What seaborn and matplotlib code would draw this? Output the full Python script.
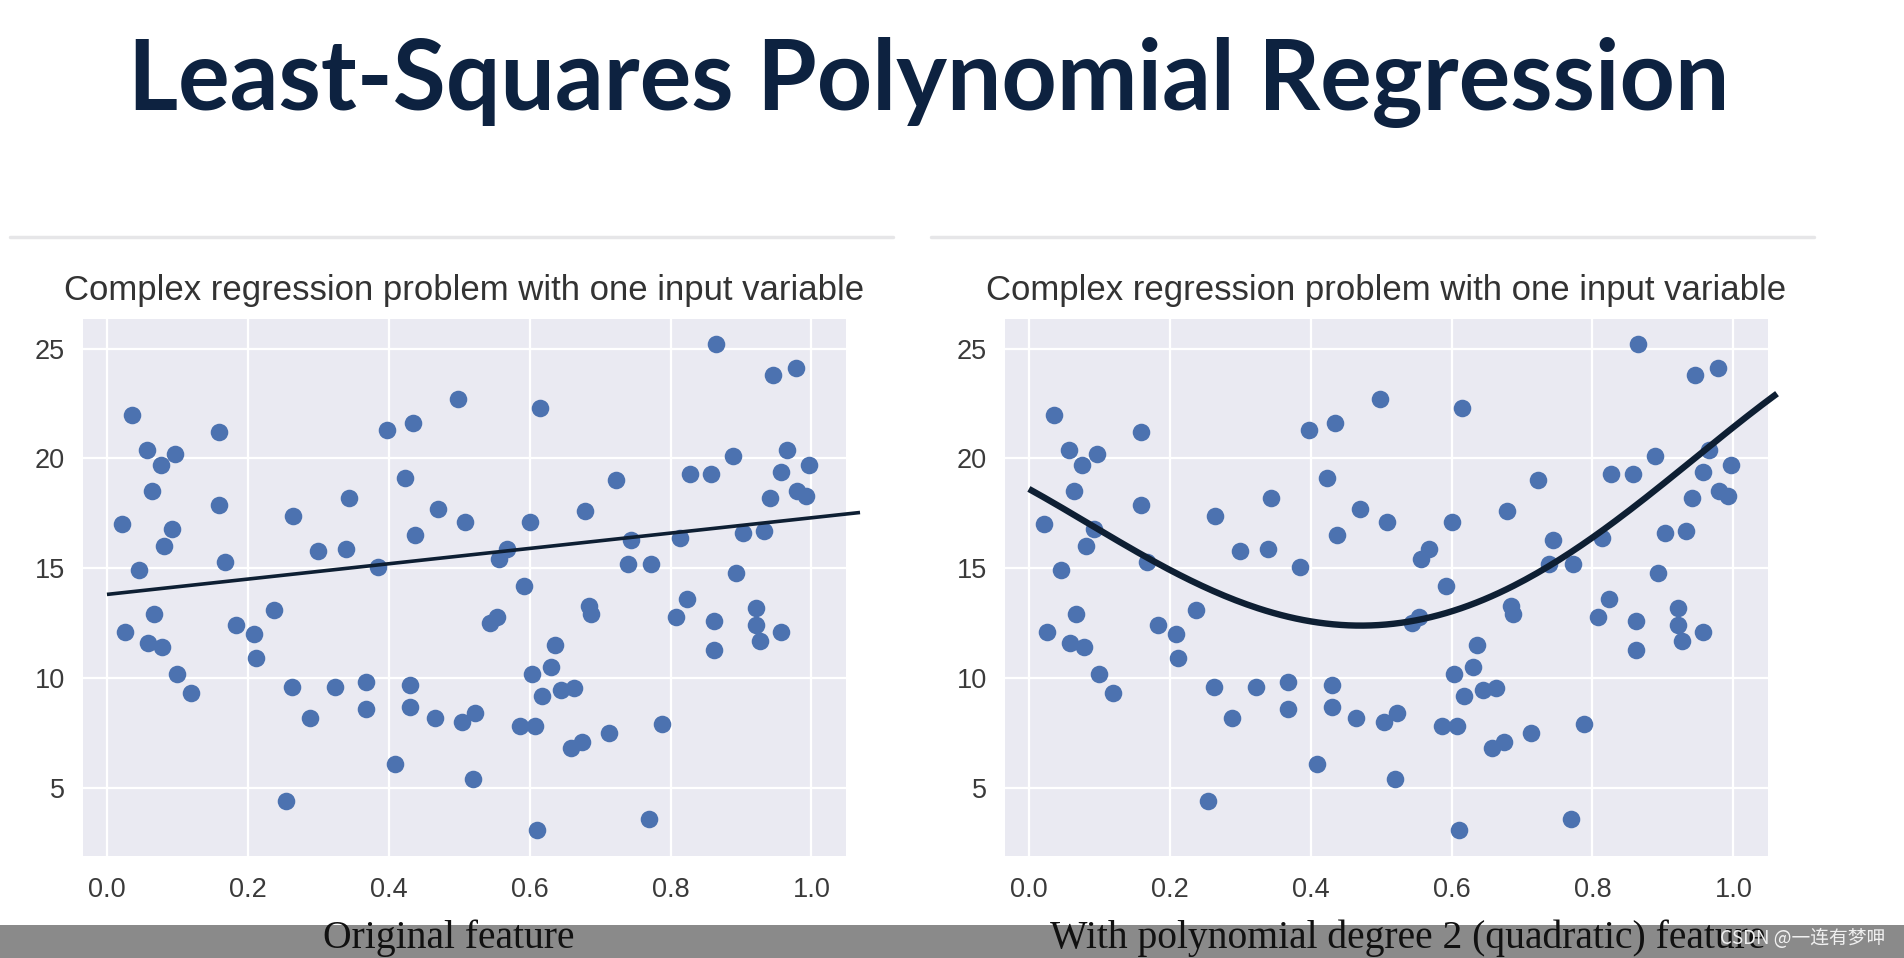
import numpy as np
import pandas as pd
import matplotlib
matplotlib.use("Agg")
import matplotlib.pyplot as plt
import seaborn as sns
from matplotlib.lines import Line2D
from matplotlib.patches import Rectangle

# ---------------- data ----------------
x_vals = [0.021, 0.026, 0.035, 0.045, 0.057, 0.058, 0.064, 0.067, 0.076, 0.078,
          0.081, 0.092, 0.097, 0.100, 0.119, 0.159, 0.159, 0.168, 0.183, 0.209,
          0.211, 0.237, 0.254, 0.263, 0.264, 0.288, 0.299, 0.323, 0.339, 0.344,
          0.368, 0.368, 0.385, 0.397, 0.409, 0.423, 0.430, 0.430, 0.434, 0.437,
          0.465, 0.470, 0.499, 0.504, 0.508, 0.520, 0.523, 0.544, 0.554, 0.556,
          0.568, 0.587, 0.592, 0.601, 0.603, 0.608, 0.611, 0.615, 0.618, 0.630,
          0.636, 0.644, 0.658, 0.663, 0.674, 0.679, 0.684, 0.687, 0.713, 0.722,
          0.739, 0.744, 0.772, 0.770, 0.788, 0.808, 0.813, 0.824, 0.827, 0.858,
          0.862, 0.862, 0.865, 0.889, 0.893, 0.903, 0.921, 0.921, 0.927, 0.933,
          0.941, 0.945, 0.957, 0.957, 0.965, 0.978, 0.979, 0.993, 0.997]
y_vals = [17.0, 12.1, 22.0, 14.9, 20.4, 11.6, 18.5, 12.9, 19.7, 11.4,
          16.0, 16.8, 20.2, 10.2, 9.3, 21.2, 17.9, 15.3, 12.4, 12.0,
          10.9, 13.1, 4.4, 9.6, 17.4, 8.2, 15.8, 9.6, 15.9, 18.2,
          9.8, 8.6, 15.05, 21.3, 6.1, 19.1, 9.7, 8.7, 21.6, 16.5,
          8.2, 17.7, 22.7, 8.0, 17.1, 5.4, 8.4, 12.5, 12.8, 15.4,
          15.9, 7.8, 14.2, 17.1, 10.2, 7.8, 3.1, 22.3, 9.2, 10.5,
          11.5, 9.45, 6.8, 9.55, 7.1, 17.6, 13.3, 12.9, 7.5, 19.0,
          15.2, 16.3, 15.2, 3.6, 7.9, 12.8, 16.4, 13.6, 19.3, 19.3,
          12.6, 11.3, 25.2, 20.1, 14.8, 16.6, 13.2, 12.4, 11.7, 16.7,
          18.2, 23.8, 12.1, 19.4, 20.4, 24.1, 18.5, 18.3, 19.7]

# fitted lines as drawn on the slide (points read along them)
line_x = [0.0, 1.069]
line_y = [13.81, 17.54]
curve_x = [0.0, 0.2, 0.413, 0.47, 0.598, 0.740, 0.806, 0.944, 1.062]
curve_y = [18.6, 14.98, 12.49, 12.29, 13.09, 15.28, 16.41, 19.95, 22.97]

x_ticks = [0.0, 0.2, 0.4, 0.6, 0.8, 1.0]
y_ticks = [5, 10, 15, 20, 25]

main_title = "Least-Squares Polynomial Regression"
panel_title = "Complex regression problem with one input variable"
captions = ["Original feature", "With polynomial degree 2 (quadratic) feature"]
watermark = "CSDN @一连有梦呷"

df = pd.DataFrame({"x": x_vals, "y": y_vals})

# ---------------- figure ----------------
sns.set_theme(style="darkgrid")
plt.rcParams["font.family"] = ["Liberation Sans", "DejaVu Sans"]

fig = plt.figure(figsize=(19.04, 9.58), dpi=100)
fig.patch.set_facecolor("white")

ax_l = fig.add_axes([0.0436, 0.1065, 0.4007, 0.5605])
ax_r = fig.add_axes([0.5278, 0.1065, 0.4007, 0.5605])

navy = "#0e1f33"
for ax in (ax_l, ax_r):
    sns.scatterplot(data=df, x="x", y="y", ax=ax, s=160, color="#4c72b0",
                    linewidth=0, alpha=1.0, zorder=3)
    ax.set_facecolor("#eaeaf2")
    ax.grid(True, color="white", linewidth=1.6)
    ax.set_xticks(x_ticks)
    ax.set_xticklabels([f"{t:.1f}" for t in x_ticks])
    ax.set_yticks(y_ticks)
    ax.set_xlim(-0.034, 1.049)
    ax.set_ylim(1.9, 26.35)
    ax.set_xlabel("")
    ax.set_ylabel("")
    ax.tick_params(axis="both", labelsize=19.5, colors="#3a3a3a", length=0)
    ax.tick_params(axis="x", pad=15)
    ax.tick_params(axis="y", pad=13)
    ax.set_title(panel_title, fontsize=25, color="#333333", pad=14)
    for sp in ax.spines.values():
        sp.set_visible(False)

# left: straight line
ax_l.plot(line_x, line_y, color=navy, linewidth=2.6, clip_on=False, zorder=4,
          solid_capstyle="butt")

# right: smooth curve through the read points
coef = np.polyfit(curve_x, curve_y, 4)
xs = np.linspace(curve_x[0], curve_x[-1], 200)
ax_r.plot(xs, np.polyval(coef, xs), color=navy, linewidth=4.6, clip_on=False,
          zorder=4, solid_capstyle="butt")

# slide title
fig.text(0.488, 0.914, main_title, ha="center", va="center", fontsize=69.5,
         fontweight="bold", color="#0d2240", family=["Lato", "DejaVu Sans"])

# separator lines above panels
for x0, x1 in [(10, 893), (931, 1814)]:
    fig.add_artist(Line2D([x0 / 1904, x1 / 1904], [1 - 237 / 958] * 2,
                          color="#e6e6e8", linewidth=2.5))

# bottom caption bar
fig.add_artist(Rectangle((0, 0), 1, 33 / 958, transform=fig.transFigure,
                         facecolor="#8a8a8a", edgecolor="none", zorder=1))
fig.text(449 / 1904, 1 - 938 / 958, captions[0], ha="center", va="center",
         fontsize=28.5, color="#111111", family=["Liberation Serif"], zorder=2)
fig.text(1050 / 1904, 1 - 938 / 958, captions[1], ha="left", va="center",
         fontsize=28.5, color="#111111", family=["Liberation Serif"], zorder=2)
fig.text(1803 / 1904, 1 - 938 / 958, watermark, ha="center", va="center",
         fontsize=13.5, color="#f0f0f0",
         family=["Noto Sans CJK SC", "DejaVu Sans"], zorder=3)

fig.savefig("out.png", dpi=100, facecolor="white")
